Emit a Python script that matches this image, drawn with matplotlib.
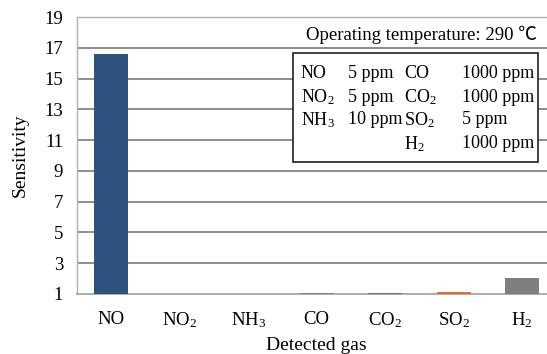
import matplotlib
matplotlib.use("Agg")
import matplotlib.pyplot as plt
from matplotlib.patches import Rectangle

plt.rcParams['font.family'] = ['Liberation Serif', 'DejaVu Serif']
plt.rcParams['mathtext.fontset'] = 'custom'
plt.rcParams['mathtext.rm'] = 'Liberation Serif'
plt.rcParams['mathtext.it'] = 'Liberation Serif'

categories = ['NO', r'NO$_\mathregular{2}$', r'NH$_\mathregular{3}$', 'CO',
              r'CO$_\mathregular{2}$', r'SO$_\mathregular{2}$', r'H$_\mathregular{2}$']
sensitivity = [16.6, 1.01, 1.01, 1.06, 1.06, 1.1, 2.03]
colors = ['#2e5180', '#9aa0b0', '#9aa0b0', '#808090', '#707070', '#e0702e', '#7f7f7f']
yticks = [1, 3, 5, 7, 9, 11, 13, 15, 17, 19]

conc_rows = [
    ('NO', '5 ppm', 'CO', '1000 ppm'),
    (r'NO$_\mathregular{2}$', '5 ppm', r'CO$_\mathregular{2}$', '1000 ppm'),
    (r'NH$_\mathregular{3}$', '10 ppm', r'SO$_\mathregular{2}$', '5 ppm'),
    ('', '', r'H$_\mathregular{2}$', '1000 ppm'),
]

W, H = 547, 354
fig = plt.figure(figsize=(W/100, H/100), dpi=100)
ax = fig.add_axes([77/W, 1-294/H, 479.5/W, 277/H])

x = list(range(len(categories)))
ax.bar(x, sensitivity, width=0.5, color=colors, edgecolor='none', zorder=3)
ax.set_xlim(-0.5, 6.5)
ax.set_ylim(1, 19)
ax.set_yticks(yticks)
ax.set_xticks(x)
ax.set_xticklabels(categories)
ax.tick_params(axis='both', length=0, labelsize=13.5)
ax.tick_params(axis='y', pad=10)
ax.tick_params(axis='x', pad=12)
for t in yticks[1:-1]:
    ax.axhline(t, color='#7a7a7a', lw=1.2, zorder=1)
for s in ['left', 'top']:
    ax.spines[s].set_color('#b0b0b0')
    ax.spines[s].set_linewidth(1.0)
ax.spines['bottom'].set_color('#a0a0a0')
ax.spines['bottom'].set_linewidth(1.2)
ax.spines['right'].set_visible(False)
ax.set_ylabel('Sensitivity', fontsize=14, labelpad=11)
ax.set_xlabel('Detected gas', fontsize=14, labelpad=5)

fig.text(537/W, 1-35/H, 'Operating temperature: 290 \u2103', fontsize=13.5,
         ha='right', va='center', family=['Liberation Serif', 'Noto Sans CJK SC'])

box = Rectangle((293/W, 1-162/H), (538-293)/W, (162-53)/H, transform=fig.transFigure,
                facecolor='white', edgecolor='#202020', lw=1.2, zorder=5)
fig.patches.append(box)
col_x = [301, 348, 404, 462]
row_y = [72, 95, 118, 142]
for r, row in enumerate(conc_rows):
    for c, txt in enumerate(row):
        if txt:
            fig.text(col_x[c]/W, 1-row_y[r]/H, txt, fontsize=13, ha='left',
                     va='center_baseline', zorder=6)

fig.savefig('out.png', dpi=100)
